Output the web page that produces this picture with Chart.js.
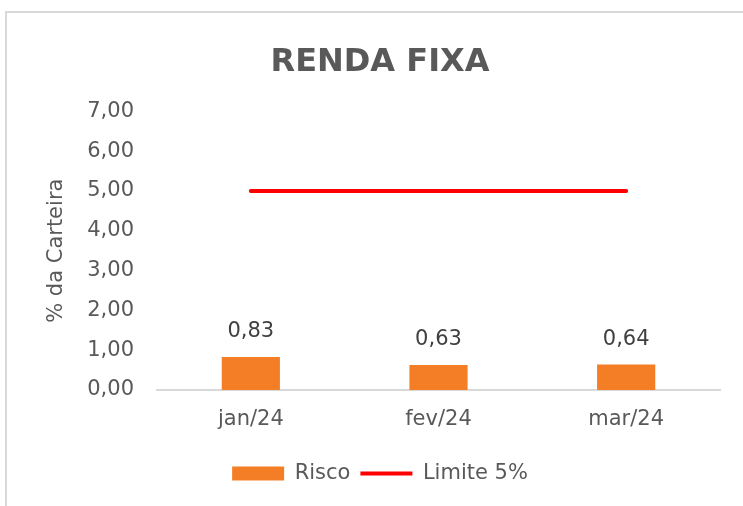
<!DOCTYPE html>
<html>
<head>
<meta charset="utf-8">
<script src="https://cdn.jsdelivr.net/npm/chart.js@4.4.1/dist/chart.umd.min.js"></script>
<style>
  html, body { margin: 0; padding: 0; background: #fff; overflow: hidden; }
  #frame { position: absolute; left: 5px; top: 11px; width: 1000px; height: 1000px; border: 2px solid #d9d9d9; }
  #wrap { position: absolute; left: 0; top: 0; width: 743px; height: 506px; }
</style>
</head>
<body>
<div id="frame"></div>
<div id="wrap"><canvas id="chart" width="743" height="506"></canvas></div>
<script>
// valores
const meses = ["jan/24", "fev/24", "mar/24"];
const risco = [0.83, 0.63, 0.64];
const limite = [5, 5, 5];

const fonte = "'DejaVu Sans', sans-serif";
const cinza = "#595959";
const tam = 21;

const fmt = (v) => v.toFixed(2).replace(".", ",");

// rotulos de dados em cima das barras
const rotulos = {
  id: "rotulos",
  afterDatasetsDraw(chart) {
    const ctx = chart.ctx;
    const meta = chart.getDatasetMeta(0);
    ctx.save();
    ctx.font = tam + "px " + fonte;
    ctx.fillStyle = "#404040";
    ctx.textAlign = "center";
    ctx.textBaseline = "middle";
    meta.data.forEach((bar, i) => {
      ctx.fillText(fmt(risco[i]), bar.x, bar.y - 25);
    });
    ctx.restore();
  },
};

const data = {
  labels: meses,
  datasets: [
    {
      type: "bar",
      label: "Risco",
      data: risco,
      backgroundColor: "#F37E25",
      borderWidth: 0,
      barPercentage: 0.31,
      categoryPercentage: 1,
      pointStyle: "rect",
    },
    {
      type: "line",
      label: "Limite 5%",
      data: limite,
      borderColor: "#FF0000",
      backgroundColor: "#FF0000",
      borderWidth: 4,
      borderCapStyle: "round",
      pointRadius: 0,
      pointStyle: "line",
    },
  ],
};

const options = {
  responsive: false,
  animation: false,
  layout: { padding: { left: 40, right: 23, bottom: 12, top: 0 } },
  plugins: {
    title: {
      display: true,
      text: "RENDA FIXA",
      color: cinza,
      font: { family: fonte, size: 32, weight: "bold" },
      padding: { top: 43, bottom: 30 },
    },
    legend: {
      position: "bottom",
      labels: {
        usePointStyle: true,
        pointStyleWidth: 52,
        boxHeight: 14,
        color: cinza,
        font: { family: fonte, size: tam },
        padding: 10,
        sort: (a, b) => a.datasetIndex - b.datasetIndex,
      },
    },
    tooltip: { enabled: false },
  },
  scales: {
    x: {
      grid: { display: false, drawTicks: false },
      border: { display: true, color: "#d9d9d9", width: 2 },
      ticks: { color: cinza, font: { family: fonte, size: tam }, padding: 17 },
      afterFit: (s) => { s.height = 63; },
    },
    y: {
      min: 0,
      max: 7,
      grid: { display: false, drawTicks: false },
      border: { display: false },
      ticks: {
        stepSize: 1,
        color: cinza,
        font: { family: fonte, size: tam },
        padding: 23,
        callback: (v) => fmt(v),
      },
      title: {
        display: true,
        text: "% da Carteira",
        color: cinza,
        font: { family: fonte, size: tam },
        padding: { top: 4, bottom: 0 },
      },
      afterFit: (s) => { s.width = 117; },
    },
  },
};

var chart = new Chart(document.getElementById("chart").getContext("2d"), {
  data: data,
  options: options,
  plugins: [rotulos],
});
</script>
</body>
</html>
